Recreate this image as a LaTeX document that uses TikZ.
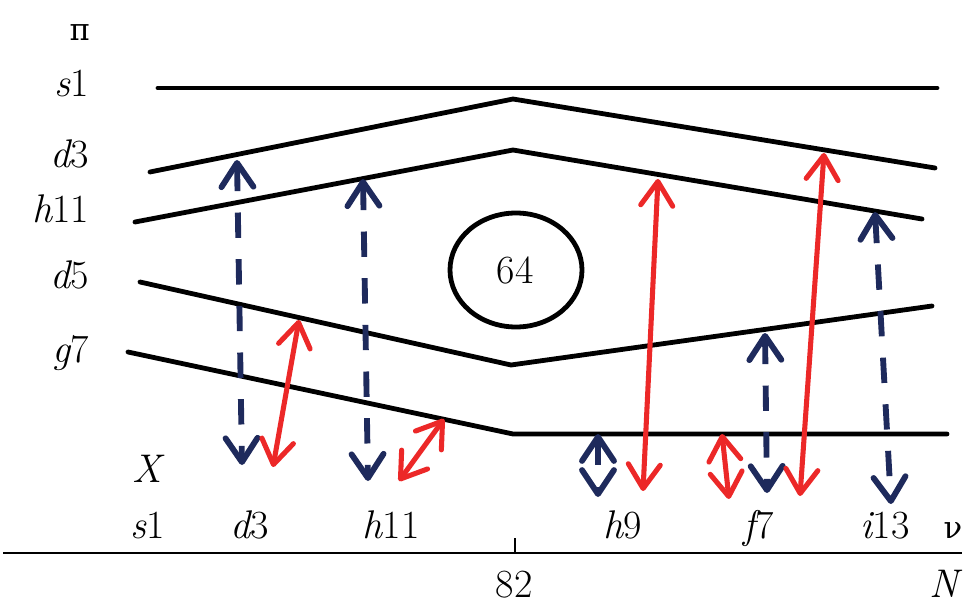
\documentclass[tikz,border=0pt]{standalone}
\usepackage{fontspec}
\newfontfamily\greekfont{DejaVu Serif}
\usetikzlibrary{arrows.meta,shapes.geometric}
\definecolor{navyblue}{RGB}{30,42,92}
\definecolor{arrred}{RGB}{236,40,40}
\tikzset{
  lbl/.style={font=\fontsize{30}{34}\selectfont, inner sep=0pt},
  greek/.style={font=\greekfont\fontsize{23}{28}\selectfont, inner sep=0pt},
  level/.style={line width=3.6pt, line join=round, line cap=round},
  axisline/.style={line width=1.6pt},
  bluearr/.style={navyblue, line width=4.4pt, dash pattern=on 19pt off 16pt,
    {Straight Barb[length=18pt,width=24pt,round]}-{Straight Barb[length=18pt,width=24pt,round]}},
  redarrow/.style={arrred, line width=3.8pt,
    {Straight Barb[length=18pt,width=24pt,round]}-{Straight Barb[length=18pt,width=24pt,round]}},
}
\begin{document}
\begin{tikzpicture}[x=0.75pt,y=-0.75pt]
\useasboundingbox (0,0) rectangle (967,613);
% left labels
\node[greek,anchor=base east] (lpi) at (90,41) {π};
\node[lbl,anchor=base east] (ls1) at (89,97) {{\itshape s}1};
\node[lbl,anchor=base east] (ld3) at (89,168) {{\itshape d}3};
\node[lbl,anchor=base east] (lh11) at (89,223) {{\itshape h}11};
\node[lbl,anchor=base east] (ld5) at (89,288) {{\itshape d}5};
\node[lbl,anchor=base east] (lg7) at (89,362) {{\itshape g}7};
% level lines
\coordinate (s1a) at (158,88); \coordinate (s1b) at (937,88);
\coordinate (d3a) at (150,172); \coordinate (d3m) at (513,99); \coordinate (d3b) at (935,168);
\coordinate (h11a) at (135,222); \coordinate (h11m) at (513,150); \coordinate (h11b) at (922,219);
\coordinate (d5a) at (140,282); \coordinate (d5m) at (511,365); \coordinate (d5b) at (932,306);
\coordinate (g7a) at (128,352); \coordinate (g7m) at (513,434); \coordinate (g7b) at (947,434);
\draw[level] (s1a) -- (s1b);
\draw[level] (d3a) -- (d3m) -- (d3b);
\draw[level] (h11a) -- (h11m) -- (h11b);
\draw[level] (d5a) -- (d5m) -- (d5b);
\draw[level] (g7a) -- (g7m) -- (g7b);
% magic number circle
\node[draw, line width=3.6pt, ellipse, minimum width=99pt, minimum height=85.5pt, inner sep=0pt] (c64) at (516,270) {};
\node[lbl,anchor=base] (t64) at (515,283) {64};
% bottom labels
\node[lbl,anchor=base] (lX) at (147,482) {{\itshape X}};
\node[lbl,anchor=base] (bs1) at (148,538) {{\itshape s}1};
\node[lbl,anchor=base] (bd3) at (250,538) {{\itshape d}3};
\node[lbl,anchor=base] (bh11) at (391,538) {{\itshape h}11};
\node[lbl,anchor=base] (bh9) at (623,538) {{\itshape h}9};
\node[lbl,anchor=base] (bf7) at (759,538) {{\itshape f}7};
\node[lbl,anchor=base] (bi13) at (885,538) {{\itshape i}13};
\node[greek,anchor=base] (bnu) at (953,538) {ν};
\node[lbl,anchor=base] (l82) at (514,597) {82};
\node[lbl,anchor=base] (lN) at (944,597) {{\itshape N}};
% axis
\coordinate (ax0) at (3,553); \coordinate (ax1) at (962,553);
\coordinate (tk0) at (515,553); \coordinate (tk1) at (515,538);
\draw[axisline] (ax0) -- (ax1);
\draw[axisline] (tk0) -- (tk1);
% blue dashed arrows
\coordinate (b1t) at (237,160); \coordinate (b1b) at (242,465);
\coordinate (b2t) at (363,179); \coordinate (b2b) at (368,481);
\coordinate (b3t) at (598,434); \coordinate (b3b) at (598,497);
\coordinate (b4t) at (765,333); \coordinate (b4b) at (767,493);
\coordinate (b5t) at (875,212); \coordinate (b5b) at (891,504);
\draw[bluearr] (b1t) -- (b1b);
\draw[bluearr] (b2t) -- (b2b);
\draw[bluearr] (b3t) -- (b3b);
\draw[bluearr] (b4t) -- (b4b);
\draw[bluearr] (b5t) -- (b5b);
% red arrows
\coordinate (r1t) at (299,320); \coordinate (r1b) at (273,467);
\coordinate (r2t) at (444,419); \coordinate (r2b) at (399,481);
\coordinate (r3t) at (658,179); \coordinate (r3b) at (643,491);
\coordinate (r4t) at (722,434); \coordinate (r4b) at (729,499);
\coordinate (r5t) at (824,153); \coordinate (r5b) at (800,496);
\draw[redarrow] (r1t) -- (r1b);
\draw[redarrow] (r2t) -- (r2b);
\draw[redarrow] (r3t) -- (r3b);
\draw[redarrow] (r4t) -- (r4b);
\draw[redarrow] (r5t) -- (r5b);
\end{tikzpicture}
\end{document}
